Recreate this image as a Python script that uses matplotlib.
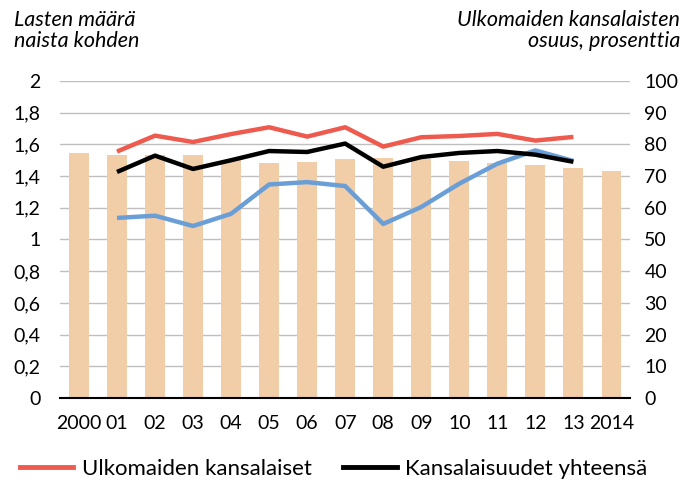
import matplotlib.pyplot as plt
import numpy as np
from matplotlib.lines import Line2D

# data
years = ['2000', '01', '02', '03', '04', '05', '06', '07', '08', '09', '10', '11', '12', '13', '2014']
bars = [1.545, 1.535, 1.53, 1.533, 1.50, 1.483, 1.489, 1.508, 1.516, 1.51, 1.495, 1.485, 1.47, 1.449, 1.432]
red = [None, 1.555, 1.655, 1.615, 1.665, 1.708, 1.649, 1.708, 1.586, 1.645, 1.653, 1.666, 1.624, 1.647, None]
black = [None, 1.426, 1.529, 1.445, 1.50, 1.558, 1.552, 1.605, 1.459, 1.52, 1.546, 1.558, 1.535, 1.49, None]
blue = [None, 1.136, 1.150, 1.085, 1.162, 1.347, 1.362, 1.337, 1.098, 1.205, 1.352, 1.478, 1.562, 1.495, None]

plt.rcParams['font.family'] = ['Lato', 'DejaVu Sans']

fig = plt.figure(figsize=(6.89, 4.84), dpi=100)
ax = fig.add_axes([0.087, 0.1777, 0.828, 0.655])
ax2 = ax.twinx()

x = np.arange(len(years))
ax.bar(x, bars, width=0.52, color='#F1CDA8', zorder=2)

def series(vals):
    return np.array([np.nan if v is None else v for v in vals], dtype=float)

ax.plot(x, series(red), color='#EE5A4E', lw=3.2, zorder=3, solid_capstyle='butt')
ax.plot(x, series(blue), color='#6A9ED6', lw=3.2, zorder=3, solid_capstyle='butt')
ax.plot(x, series(black), color='black', lw=3.2, zorder=4, solid_capstyle='butt')

ax.set_xlim(-0.5, len(years) - 0.5)
ax.set_ylim(0, 2)
ticks = np.arange(0, 2.01, 0.2)
ax.set_yticks(ticks)
ax.set_yticklabels([('%.1f' % v).replace('.', ',').replace(',0', '') if v > 0 else '0' for v in ticks])
ax2.set_ylim(0, 100)
ax2.set_yticks(range(0, 101, 10))

ax.set_xticks(x)
ax.set_xticklabels(years)
ax.grid(axis='y', color='#BFBFBF', lw=1, zorder=0)
ax.set_axisbelow(True)

for a in (ax, ax2):
    for s in a.spines.values():
        s.set_visible(False)
    a.tick_params(length=0, labelsize=14)
ax.spines['bottom'].set_visible(True)
ax.spines['bottom'].set_color('black')
ax.spines['bottom'].set_linewidth(1.5)
ax.tick_params(axis='y', pad=14)
ax.tick_params(axis='x', pad=12)
ax2.tick_params(axis='y', pad=10)

fig.text(0.02, 0.98, 'Lasten määrä\nnaista kohden', ha='left', va='top',
         fontsize=15.5, style='italic', linespacing=1.1)
fig.text(0.987, 0.98, 'Ulkomaiden kansalaisten\nosuus, prosenttia', ha='right', va='top',
         fontsize=15.5, style='italic', linespacing=1.1, multialignment='right')

# legend
handles = [Line2D([], [], color='#EE5A4E', lw=3.5), Line2D([], [], color='black', lw=3.5)]
fig.legend(handles, ['Ulkomaiden kansalaiset', 'Kansalaisuudet yhteensä'],
           loc='lower left', bbox_to_anchor=(0.0, -0.03), ncol=2, frameon=False,
           fontsize=16, handlelength=2.4, handletextpad=0.4, columnspacing=1.4)

fig.savefig('out.png', dpi=100)
